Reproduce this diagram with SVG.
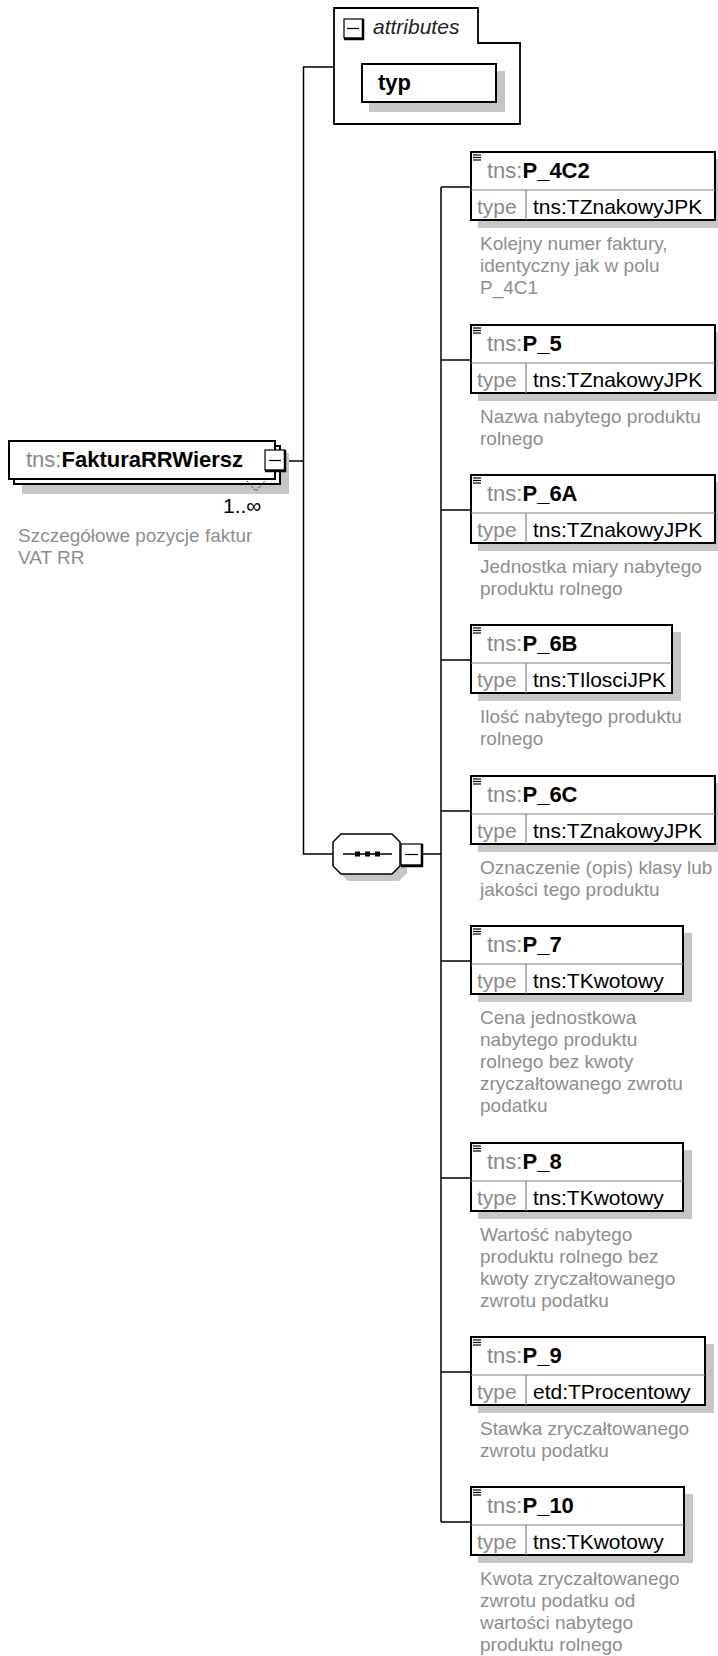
<svg xmlns="http://www.w3.org/2000/svg" width="718" height="1656" viewBox="0 0 718 1656">
<style>
text{font-family:"Liberation Sans",Arial,sans-serif}
.bg{fill:#fff}
.box{fill:#fff;stroke:#000;stroke-width:2}
.sh{fill:#c6c6c6}
.dv{stroke:#808080;stroke-width:1.2}
.cn{stroke:#000;stroke-width:1.5;fill:none}
.ic{stroke:#000;stroke-width:1.2}
.hd{font-size:22px;fill:#000}
.pre{fill:#8a8a8a;font-weight:normal}
.nm{font-weight:bold;fill:#000}
.tl{font-size:21px;fill:#8a8a8a}
.tv{font-size:21px;fill:#000}
.ds{font-size:19px;fill:#8e8e8e}
.btn{fill:#fff;stroke:#000;stroke-width:1.2}
.btk{stroke:#000;stroke-width:2.5;fill:none}
</style>
<defs>
<g id="icon"><line class="ic" x1="473" y1="4" x2="481" y2="4"/><line class="ic" x1="473" y1="6.5" x2="481" y2="6.5"/><line class="ic" x1="473" y1="9" x2="481" y2="9"/></g>
</defs>
<rect class="bg" x="0" y="0" width="718" height="1656"/>

<g id="connectors">
<polyline class="cn" points="286,461 303.5,461"/>
<polyline class="cn" points="333,67 303.5,67 303.5,854 333,854"/>
<polyline class="cn" points="423,854 441,854"/>
<line class="cn" x1="441" y1="187" x2="441" y2="1522"/>
<line class="cn" x1="441" y1="187" x2="470" y2="187"/>
<line class="cn" x1="441" y1="360" x2="470" y2="360"/>
<line class="cn" x1="441" y1="510" x2="470" y2="510"/>
<line class="cn" x1="441" y1="660" x2="470" y2="660"/>
<line class="cn" x1="441" y1="811" x2="470" y2="811"/>
<line class="cn" x1="441" y1="961" x2="470" y2="961"/>
<line class="cn" x1="441" y1="1178" x2="470" y2="1178"/>
<line class="cn" x1="441" y1="1372" x2="470" y2="1372"/>
<line class="cn" x1="441" y1="1522" x2="470" y2="1522"/>
</g>

<g id="FakturaRRWiersz">
<rect class="sh" x="22" y="453" width="267" height="41"/>
<rect class="box" x="14" y="446" width="266" height="38"/>
<rect class="box" x="9" y="441" width="266" height="38"/>
<path d="M247,481 L256,491 L265,481" fill="none" stroke="#333" stroke-width="1" stroke-dasharray="2,1.5"/>
<rect class="btn" x="265" y="450" width="20" height="20"/>
<path class="btk" d="M285,450 V471 H265"/>
<line class="ic" x1="269" y1="460.5" x2="281" y2="460.5" stroke-width="1.5"/>
<text class="hd" x="26" y="467"><tspan class="pre">tns:</tspan><tspan class="nm">FakturaRRWiersz</tspan></text>
<text class="tv" x="223" y="513">1..∞</text>
<text class="ds" x="18" y="542">Szczegółowe pozycje faktur</text>
<text class="ds" x="18" y="564">VAT RR</text>
</g>

<g id="attributes">
<path d="M334,8 H478 V43 H520 V124 H334 Z" fill="#fff" stroke="#000" stroke-width="1.8"/>
<rect class="btn" x="344" y="19" width="19" height="19"/>
<path class="btk" d="M363,19 V39 H344"/>
<line class="ic" x1="347" y1="28.5" x2="359" y2="28.5" stroke-width="1.5"/>
<text x="373" y="34" font-size="21" font-style="italic" fill="#222">attributes</text>
<g id="typ">
<rect class="sh" x="369" y="71" width="136" height="41"/>
<rect class="box" x="362" y="64" width="134" height="38"/>
<text x="378" y="90" font-size="22" font-weight="bold" fill="#000">typ</text>
</g>
</g>

<g id="sequence">
<polygon class="sh" points="348,841 399,841 407,849 407,873 399,881 348,881 340,873 340,849"/>
<polygon points="341,834 392,834 400,842 400,866 392,874 341,874 333,866 333,842" fill="#fff" stroke="#000" stroke-width="1.5"/>
<line x1="343" y1="854" x2="392" y2="854" stroke="#000" stroke-width="1.5"/>
<rect x="355" y="851.5" width="5" height="5" fill="#000"/>
<rect x="365" y="851.5" width="5" height="5" fill="#000"/>
<rect x="375" y="851.5" width="5" height="5" fill="#000"/>
<rect class="btn" x="401" y="844" width="21" height="21"/>
<path class="btk" d="M422,844 V866 H401"/>
<line class="ic" x1="405" y1="854.5" x2="418" y2="854.5" stroke-width="1.5"/>
</g>

<g id="P_4C2" transform="translate(0,151)">
<rect class="sh" x="478" y="8" width="246" height="69"/>
<rect class="box" x="471" y="1" width="244" height="68"/>
<line class="dv" x1="471" y1="39" x2="715" y2="39"/>
<line class="dv" x1="526" y1="39" x2="526" y2="69"/>
<use href="#icon"/>
<text class="hd" x="487" y="27"><tspan class="pre">tns:</tspan><tspan class="nm">P_4C2</tspan></text>
<text class="tl" x="477" y="63">type</text>
<text class="tv" x="533" y="63">tns:TZnakowyJPK</text>
<text class="ds" x="480" y="99">Kolejny numer faktury,</text>
<text class="ds" x="480" y="121">identyczny jak w polu</text>
<text class="ds" x="480" y="143">P_4C1</text>
</g>

<g id="P_5" transform="translate(0,324)">
<rect class="sh" x="478" y="8" width="246" height="69"/>
<rect class="box" x="471" y="1" width="244" height="68"/>
<line class="dv" x1="471" y1="39" x2="715" y2="39"/>
<line class="dv" x1="526" y1="39" x2="526" y2="69"/>
<use href="#icon"/>
<text class="hd" x="487" y="27"><tspan class="pre">tns:</tspan><tspan class="nm">P_5</tspan></text>
<text class="tl" x="477" y="63">type</text>
<text class="tv" x="533" y="63">tns:TZnakowyJPK</text>
<text class="ds" x="480" y="99">Nazwa nabytego produktu</text>
<text class="ds" x="480" y="121">rolnego</text>
</g>

<g id="P_6A" transform="translate(0,474)">
<rect class="sh" x="478" y="8" width="246" height="69"/>
<rect class="box" x="471" y="1" width="244" height="68"/>
<line class="dv" x1="471" y1="39" x2="715" y2="39"/>
<line class="dv" x1="526" y1="39" x2="526" y2="69"/>
<use href="#icon"/>
<text class="hd" x="487" y="27"><tspan class="pre">tns:</tspan><tspan class="nm">P_6A</tspan></text>
<text class="tl" x="477" y="63">type</text>
<text class="tv" x="533" y="63">tns:TZnakowyJPK</text>
<text class="ds" x="480" y="99">Jednostka miary nabytego</text>
<text class="ds" x="480" y="121">produktu rolnego</text>
</g>

<g id="P_6B" transform="translate(0,624)">
<rect class="sh" x="478" y="8" width="203" height="69"/>
<rect class="box" x="471" y="1" width="201" height="68"/>
<line class="dv" x1="471" y1="39" x2="672" y2="39"/>
<line class="dv" x1="526" y1="39" x2="526" y2="69"/>
<use href="#icon"/>
<text class="hd" x="487" y="27"><tspan class="pre">tns:</tspan><tspan class="nm">P_6B</tspan></text>
<text class="tl" x="477" y="63">type</text>
<text class="tv" x="533" y="63">tns:TIlosciJPK</text>
<text class="ds" x="480" y="99">Ilość nabytego produktu</text>
<text class="ds" x="480" y="121">rolnego</text>
</g>

<g id="P_6C" transform="translate(0,775)">
<rect class="sh" x="478" y="8" width="246" height="69"/>
<rect class="box" x="471" y="1" width="244" height="68"/>
<line class="dv" x1="471" y1="39" x2="715" y2="39"/>
<line class="dv" x1="526" y1="39" x2="526" y2="69"/>
<use href="#icon"/>
<text class="hd" x="487" y="27"><tspan class="pre">tns:</tspan><tspan class="nm">P_6C</tspan></text>
<text class="tl" x="477" y="63">type</text>
<text class="tv" x="533" y="63">tns:TZnakowyJPK</text>
<text class="ds" x="480" y="99">Oznaczenie (opis) klasy lub</text>
<text class="ds" x="480" y="121">jakości tego produktu</text>
</g>

<g id="P_7" transform="translate(0,925)">
<rect class="sh" x="478" y="8" width="214" height="69"/>
<rect class="box" x="471" y="1" width="212" height="68"/>
<line class="dv" x1="471" y1="39" x2="683" y2="39"/>
<line class="dv" x1="526" y1="39" x2="526" y2="69"/>
<use href="#icon"/>
<text class="hd" x="487" y="27"><tspan class="pre">tns:</tspan><tspan class="nm">P_7</tspan></text>
<text class="tl" x="477" y="63">type</text>
<text class="tv" x="533" y="63">tns:TKwotowy</text>
<text class="ds" x="480" y="99">Cena jednostkowa</text>
<text class="ds" x="480" y="121">nabytego produktu</text>
<text class="ds" x="480" y="143">rolnego bez kwoty</text>
<text class="ds" x="480" y="165">zryczałtowanego zwrotu</text>
<text class="ds" x="480" y="187">podatku</text>
</g>

<g id="P_8" transform="translate(0,1142)">
<rect class="sh" x="478" y="8" width="214" height="69"/>
<rect class="box" x="471" y="1" width="212" height="68"/>
<line class="dv" x1="471" y1="39" x2="683" y2="39"/>
<line class="dv" x1="526" y1="39" x2="526" y2="69"/>
<use href="#icon"/>
<text class="hd" x="487" y="27"><tspan class="pre">tns:</tspan><tspan class="nm">P_8</tspan></text>
<text class="tl" x="477" y="63">type</text>
<text class="tv" x="533" y="63">tns:TKwotowy</text>
<text class="ds" x="480" y="99">Wartość nabytego</text>
<text class="ds" x="480" y="121">produktu rolnego bez</text>
<text class="ds" x="480" y="143">kwoty zryczałtowanego</text>
<text class="ds" x="480" y="165">zwrotu podatku</text>
</g>

<g id="P_9" transform="translate(0,1336)">
<rect class="sh" x="478" y="8" width="236" height="69"/>
<rect class="box" x="471" y="1" width="234" height="68"/>
<line class="dv" x1="471" y1="39" x2="705" y2="39"/>
<line class="dv" x1="526" y1="39" x2="526" y2="69"/>
<use href="#icon"/>
<text class="hd" x="487" y="27"><tspan class="pre">tns:</tspan><tspan class="nm">P_9</tspan></text>
<text class="tl" x="477" y="63">type</text>
<text class="tv" x="533" y="63">etd:TProcentowy</text>
<text class="ds" x="480" y="99">Stawka zryczałtowanego</text>
<text class="ds" x="480" y="121">zwrotu podatku</text>
</g>

<g id="P_10" transform="translate(0,1486)">
<rect class="sh" x="478" y="8" width="215" height="69"/>
<rect class="box" x="471" y="1" width="213" height="68"/>
<line class="dv" x1="471" y1="39" x2="684" y2="39"/>
<line class="dv" x1="526" y1="39" x2="526" y2="69"/>
<use href="#icon"/>
<text class="hd" x="487" y="27"><tspan class="pre">tns:</tspan><tspan class="nm">P_10</tspan></text>
<text class="tl" x="477" y="63">type</text>
<text class="tv" x="533" y="63">tns:TKwotowy</text>
<text class="ds" x="480" y="99">Kwota zryczałtowanego</text>
<text class="ds" x="480" y="121">zwrotu podatku od</text>
<text class="ds" x="480" y="143">wartości nabytego</text>
<text class="ds" x="480" y="165">produktu rolnego</text>
</g>
</svg>
